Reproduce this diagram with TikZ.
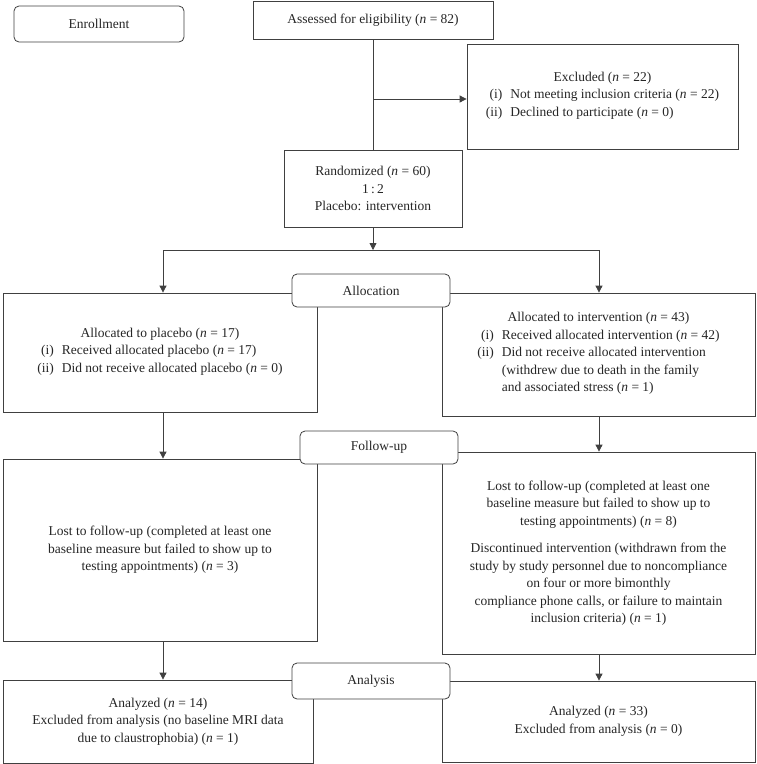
\documentclass[tikz,border=0pt]{standalone}
\usepackage{fontspec}
\setmainfont{Liberation Serif}
\usetikzlibrary{arrows.meta,calc}

\begin{document}
\begin{tikzpicture}[
    x=1pt, y=-1pt,
    every node/.style={
        font=\fontsize{13.5}{17.5}\selectfont,
        text=black!85
    },
    box/.style={
        draw=black!75,
        line width=0.8pt,
        fill=white,        % covers lines that run behind it
        align=center,
        inner sep=0pt
    },
    stage/.style={
        box,
        rounded corners=5pt % the phase labels
    },
    link/.style={draw=black!75, line width=0.8pt},
    arr/.style={link, -{Triangle[width=7pt,length=7pt]}}
]
\useasboundingbox (0,0) rectangle (756,764);

% enrollment
\node[stage, minimum width=170pt, minimum height=36pt] (enroll) at (99,24) {Enrollment};
\node[box, minimum width=240pt, minimum height=38pt] (assess) at (373,20.5)
    {Assessed for eligibility (\textit{n} = 82)};
\node[box, minimum width=271pt, minimum height=105pt] (excl) at (602.5,96.5)
    {Excluded (\textit{n} = 22)\\
     \begin{tabular}[t]{@{}r@{\hspace{8pt}}l@{}}
     (i) & Not meeting inclusion criteria (\textit{n} = 22)\\
     (ii) & Declined to participate (\textit{n} = 0)
     \end{tabular}};
\node[box, minimum width=178pt, minimum height=77pt] (rand) at (373,188.5)
    {Randomized (\textit{n} = 60)\\1\,:\,2\\Placebo: intervention};

% allocation
\node[box, minimum width=314pt, minimum height=119pt] (placebo) at (160,352.5)
    {Allocated to placebo (\textit{n} = 17)\\
     \begin{tabular}[t]{@{}r@{\hspace{8pt}}l@{}}
     (i) & Received allocated placebo (\textit{n} = 17)\\
     (ii) & Did not receive allocated placebo (\textit{n} = 0)
     \end{tabular}};
\node[box, minimum width=313pt, minimum height=123pt] (interv) at (598.5,354.5)
    {Allocated to intervention (\textit{n} = 43)\\
     \begin{tabular}[t]{@{}r@{\hspace{8pt}}l@{}}
     (i) & Received allocated intervention (\textit{n} = 42)\\
     (ii) & Did not receive allocated intervention\\
          & (withdrew due to death in the family\\
          & and associated stress (\textit{n} = 1)
     \end{tabular}};
\node[stage, minimum width=158pt, minimum height=33pt] (alloc) at (371,290.5) {Allocation};

% follow-up
\node[box, minimum width=314pt, minimum height=182pt] (lostL) at (160,550)
    {Lost to follow-up (completed at least one\\
     baseline measure but failed to show up to\\
     testing appointments) (\textit{n} = 3)};
\node[box, minimum width=313pt, minimum height=202pt] (lostR) at (598.5,553)
    {Lost to follow-up (completed at least one\\
     baseline measure but failed to show up to\\
     testing appointments) (\textit{n} = 8)\\[10pt]
     Discontinued intervention (withdrawn from the\\
     study by study personnel due to noncompliance\\
     on four or more bimonthly\\
     compliance phone calls, or failure to maintain\\
     inclusion criteria) (\textit{n} = 1)};
\node[stage, minimum width=158pt, minimum height=33pt] (follow) at (379,447.5) {Follow-up};

% analysis
\node[box, minimum width=310pt, minimum height=83pt] (anaL) at (158,721.5)
    {Analyzed (\textit{n} = 14)\\
     Excluded from analysis (no baseline MRI data\\
     due to claustrophobia) (\textit{n} = 1)};
\node[box, minimum width=313pt, minimum height=81pt] (anaR) at (598.5,721.5)
    {Analyzed (\textit{n} = 33)\\
     Excluded from analysis (\textit{n} = 0)};
\node[stage, minimum width=158pt, minimum height=36pt] (analysis) at (371,681) {Analysis};

% connectors
\coordinate (split) at (373,250);
\coordinate (splitL) at (163,250);
\coordinate (splitR) at (599,250);
\coordinate (excljoin) at (assess.south |- 0,99);

\draw[link] (assess) -- (rand);
\draw[arr] (excljoin) -- (excl.west |- excljoin);
\draw[arr] (rand) -- (split);
\draw[link] (splitL) -- (splitR);
\draw[arr] (splitL) -- (placebo.north -| splitL);
\draw[arr] (splitR) -- (interv.north -| splitR);
\draw[arr] (placebo.south -| splitL) -- (lostL.north -| splitL);
\draw[arr] (interv.south -| splitR) -- (lostR.north -| splitR);
\draw[arr] (lostL.south -| splitL) -- (anaL.north -| splitL);
\draw[arr] (lostR.south -| splitR) -- (anaR.north -| splitR);
\end{tikzpicture}
\end{document}
